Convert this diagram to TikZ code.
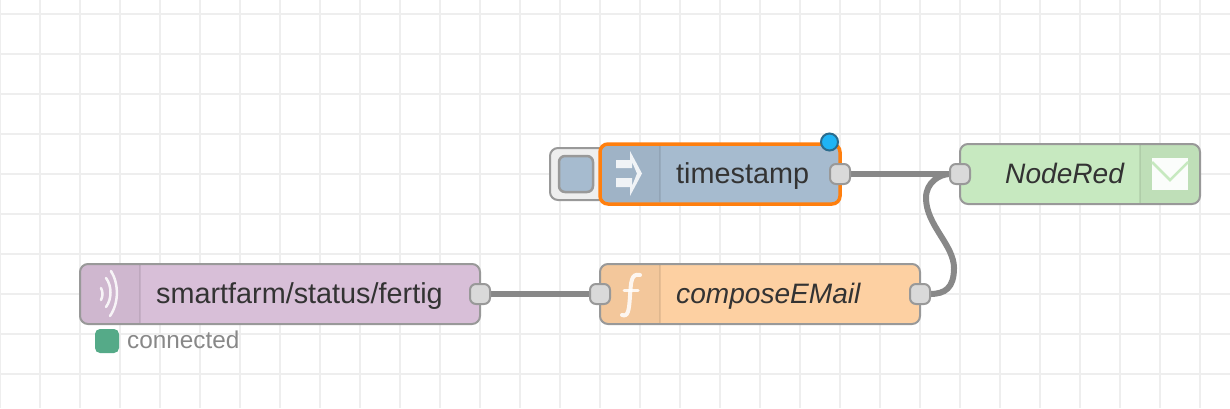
\documentclass[tikz,border=0pt]{standalone}
\usepackage{fontspec}
\setmainfont{Liberation Sans}
\usetikzlibrary{backgrounds}
\definecolor{gridgrey}{HTML}{EEEEEE}
\definecolor{edgegrey}{HTML}{999999}
\definecolor{wiregrey}{HTML}{888888}
\definecolor{portgrey}{HTML}{D9D9D9}
\definecolor{injectblue}{HTML}{A6BBCF}
\definecolor{mqttpurple}{HTML}{D8BFD8}
\definecolor{funcorange}{HTML}{FDD0A2}
\definecolor{mailgreen}{HTML}{C7E9C0}
\definecolor{selectorange}{HTML}{FF7F0E}
\definecolor{badgeblue}{HTML}{1FB4F5}
\definecolor{badgeedge}{HTML}{2A6C8E}
\definecolor{statusgreen}{HTML}{55AA88}
\definecolor{labelgrey}{HTML}{333333}
\begin{document}
\begin{tikzpicture}[
    x=1pt, y=-1pt,
    gridline/.style={draw=gridgrey, line width=2pt},
    flow/.style={rectangle, draw=edgegrey, line width=2pt, rounded corners=8pt,
      minimum height=60pt, inner sep=0pt, outer sep=0pt},
    port/.style={rectangle, draw=edgegrey, fill=portgrey, line width=2pt, rounded corners=6pt,
      minimum size=20pt, inner sep=0pt, outer sep=0pt},
    wire/.style={draw=wiregrey, line width=6pt},
    iconband/.style={fill=black, fill opacity=0.04},
    bandline/.style={draw=black, draw opacity=0.08, line width=1.5pt},
    glyph/.style={draw=white, line width=3pt, line cap=round, opacity=0.85},
    lbl/.style={font=\fontsize{28.8}{30}\selectfont, text=labelgrey, inner sep=0pt, anchor=base west},
    ilbl/.style={lbl, font=\fontsize{28.1}{30}\selectfont\itshape},
]
\useasboundingbox (0,0) rectangle (1230,408);
% Button of the timestamp node
\node[rectangle, draw=edgegrey, fill=gridgrey, line width=2pt, rounded corners=8pt,
  minimum width=60pt, minimum height=52pt, inner sep=0pt] (tsbutton) at (580,174) {};
\node[rectangle, draw=edgegrey, fill=injectblue, line width=2.5pt, rounded corners=6pt,
  minimum width=34pt, minimum height=36pt, inner sep=0pt] (tsknob) at (576,174) {};
% Bodies
\node[flow, fill=injectblue, draw=selectorange, line width=3.5pt, minimum width=240pt] (tsbody) at (720,174) {};
\node[flow, fill=mailgreen, minimum width=240pt]  (nrbody) at (1080,174) {};
\node[flow, fill=mqttpurple, minimum width=400pt] (sfbody) at (280,294) {};
\node[flow, fill=funcorange, minimum width=320pt] (cebody) at (760,294) {};
% Icon bands
\fill[iconband] (660,146) [rounded corners=6pt] -- (602,146) -- (602,202) [sharp corners] -- (660,202) -- cycle;
\draw[bandline] (660,146) -- (660,202);
\fill[iconband] (1140,145) [rounded corners=7pt] -- (1199,145) -- (1199,203) [sharp corners] -- (1140,203) -- cycle;
\draw[bandline] (1140,145) -- (1140,203);
\fill[iconband] (140,265) [rounded corners=7pt] -- (81,265) -- (81,323) [sharp corners] -- (140,323) -- cycle;
\draw[bandline] (140,265) -- (140,323);
\fill[iconband] (660,265) [rounded corners=7pt] -- (601,265) -- (601,323) [sharp corners] -- (660,323) -- cycle;
\draw[bandline] (660,265) -- (660,323);
% Icons
\fill[white, opacity=0.85] (616,160) -- (630,160) -- (630,151) -- (642,173.5) -- (630,196) -- (630,187) -- (616,187) -- (616,178)
  -- (632,178) -- (632,186) -- (637,173.5) -- (632,162) -- (632,168) -- (616,168) -- cycle;
\draw[glyph, line width=2.5pt] (101,288) .. controls (103,292) and (103,296) .. (101,300);
\draw[glyph, line width=2.5pt] (106,278) .. controls (112,286) and (112,299) .. (106,307);
\draw[glyph, line width=2.5pt] (111,271) .. controls (119,284) and (119,303) .. (110,316);
\draw[glyph, line width=4pt] (622,315) .. controls (628,317) and (629,311) .. (630,296) .. controls (631,282) and (631,273) .. (640,275);
\draw[glyph] (624,290) -- (638,290);
\fill[white, opacity=0.95] (1152,158) rectangle (1188,190);
\draw[mailgreen, line width=2.5pt] (1152,162) -- (1170,180) -- (1188,162);
% Labels
\node[lbl]  (tslabel) at (676,183) {timestamp};
\node[ilbl] (nrlabel) at (1005,183) {NodeRed};
\node[lbl]  (sflabel) at (156,303) {smartfarm/status/fertig};
\node[ilbl] (celabel) at (676,303) {composeEMail};
% Ports
\node[port] (tsout) at (840,174) {};
\node[port] (nrin)  at (960,174) {};
\node[port] (sfout) at (480,294) {};
\node[port] (cein)  at (600,294) {};
\node[port] (ceout) at (920,294) {};
% Changed badge and status
\node[circle, draw=badgeedge, fill=badgeblue, line width=2pt, minimum size=17pt, inner sep=0pt] (tsbadge) at (829.5,142) {};
\node[rectangle, fill=statusgreen, rounded corners=5pt, minimum size=24pt, inner sep=0pt] (sfdot) at (107,341) {};
\node[inner sep=0pt, anchor=base west, text=wiregrey, font=\fontsize{24.3}{26}\selectfont] (sfstatus) at (127,348) {connected};
\begin{scope}[on background layer]
  % Grid
  \fill[white] (0,0) rectangle (1230,408);
  \foreach \gx in {0,40,...,1200} {
    \draw[gridline] (\gx,0) -- (\gx,408);
  }
  \foreach \gy in {14,54,...,394} {
    \draw[gridline] (0,\gy) -- (1230,\gy);
  }
  % Wires
  \draw[wire] (tsout) -- (nrin);
  \draw[wire] (sfout) -- (cein);
  \draw[wire] (ceout) .. controls (945,294) and (954,288) .. (954,268)
    .. controls (954,245) and (926,225) .. (926,198)
    .. controls (926,182) and (940,174) .. (nrin);
\end{scope}
\end{tikzpicture}
\end{document}
